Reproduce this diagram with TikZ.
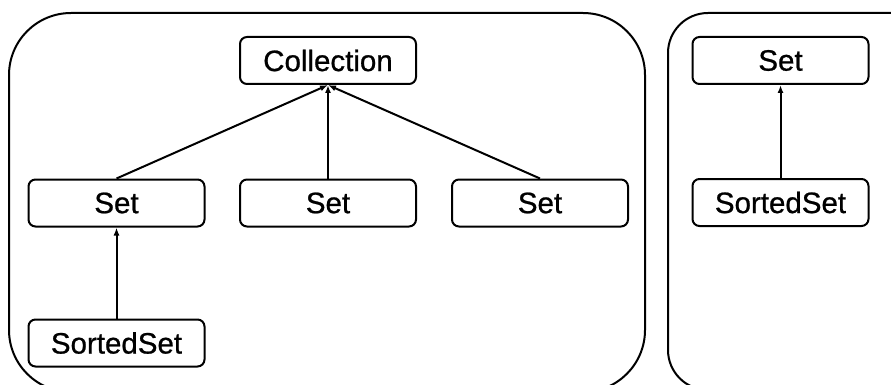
\documentclass[tikz,border=0pt]{standalone}
\usepackage{fontspec}
\setmainfont{Liberation Sans}
\newfontfamily\labelfont[FakeBold=0.8]{Liberation Sans}
\usetikzlibrary{arrows.meta}
\begin{document}
\begin{tikzpicture}[x=1pt,y=-1pt,
  box/.style={draw,line width=2pt,rounded corners=7pt,minimum width=176pt,minimum height=47pt,inner sep=0pt,
    font=\labelfont\fontsize{29.5}{33}\selectfont},
  container/.style={draw,line width=2pt},
  inherit/.style={line width=2pt,-{Latex[length=8pt,width=6pt]}}]
\useasboundingbox (0,0) rectangle (891,385);
\clip (0,0) rectangle (891,385);
\draw[container,rounded corners=62pt] (9,13) rectangle (645,392);
\draw[container,rounded corners=40pt] (668,13) rectangle (935,390);
\node[box] (coll) at (328,60.5) {Collection};
\node[box] (set1) at (116.5,203) {Set};
\node[box] (set2) at (328,203) {Set};
\node[box] (set3) at (540,203) {Set};
\node[box] (sorted1) at (116.5,343) {SortedSet};
\node[box] (rset) at (780.5,60.5) {Set};
\node[box] (rsorted) at (780.5,202.5) {SortedSet};
\draw[inherit] (set1.north) -- (coll.south);
\draw[inherit] (set2.north) -- (coll.south);
\draw[inherit] (set3.north) -- (coll.south);
\draw[inherit] (sorted1.north) -- (set1.south);
\draw[inherit] (rsorted.north) -- (rset.south);
\end{tikzpicture}
\end{document}
